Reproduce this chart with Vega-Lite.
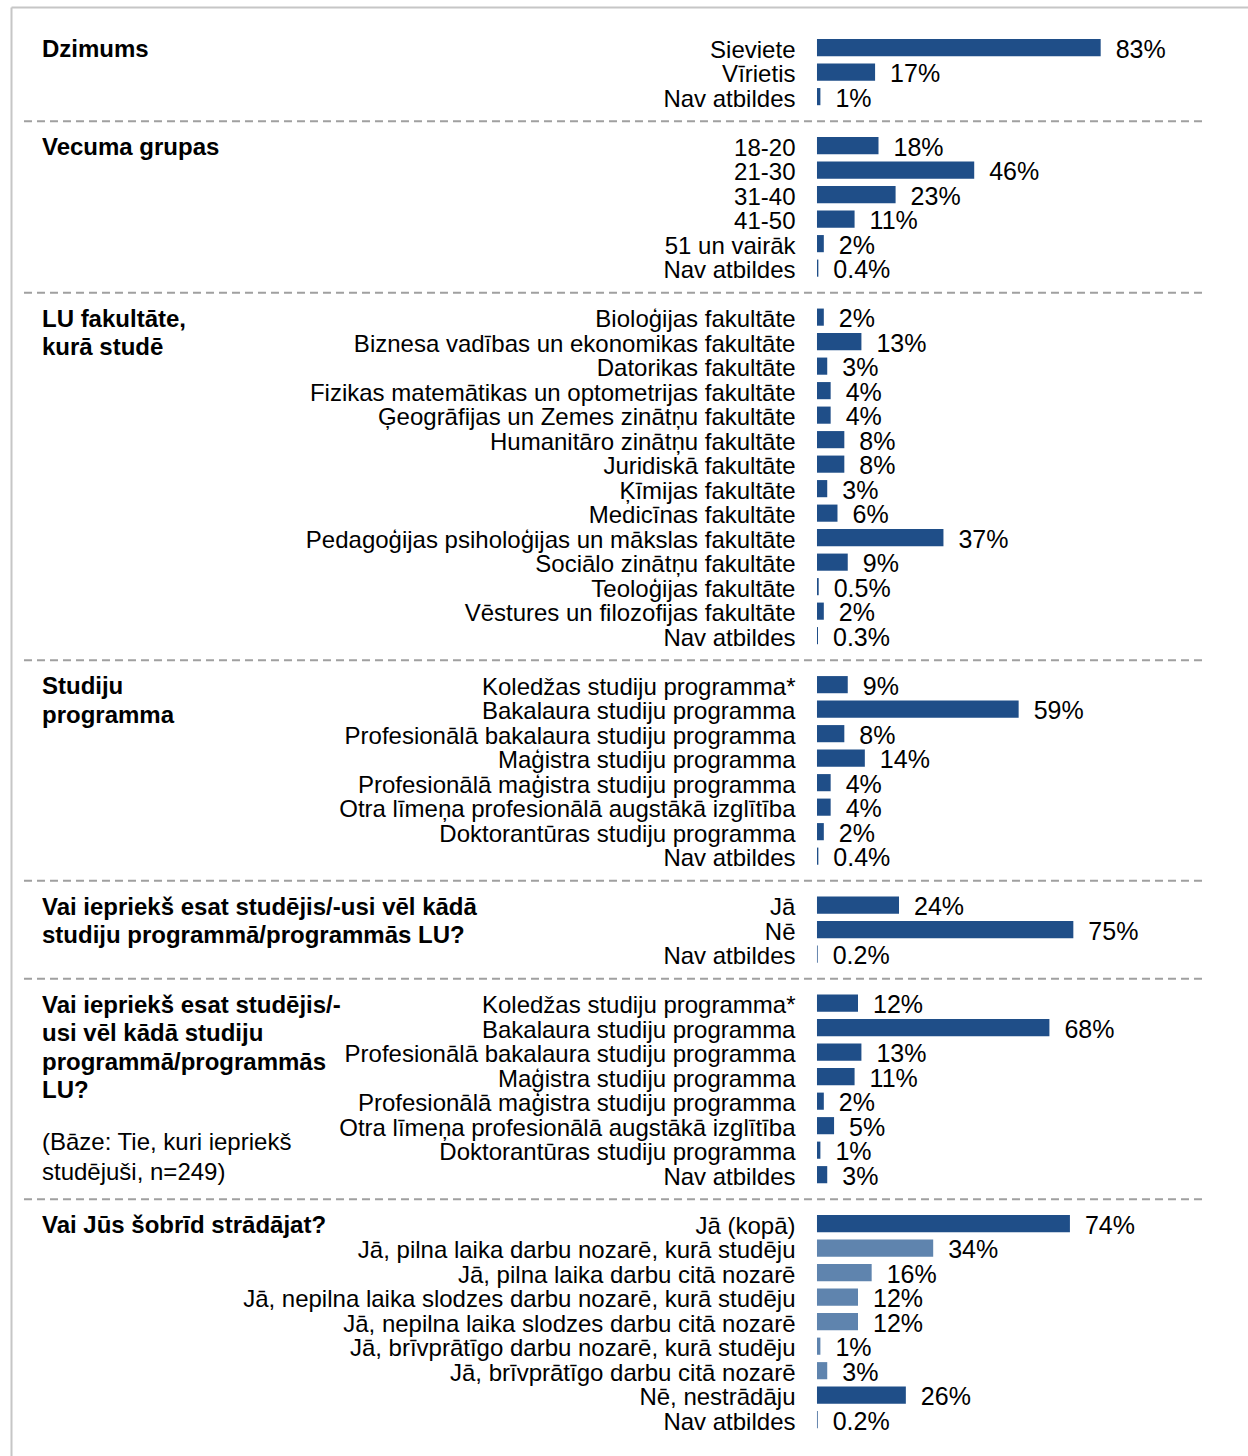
{
  "$schema": "https://vega.github.io/schema/vega-lite/v6.json",
  "width": 1237,
  "height": 1449,
  "autosize": {"type": "none"},
  "padding": {"left": 11, "top": 7, "right": 0, "bottom": 0},
  "background": "white",
  "config": {
    "view": {"stroke": null},
    "axis": {"domainColor": "#C6C6C6", "domainWidth": 2, "ticks": false, "labels": false, "grid": false},
    "text": {"font": "Liberation Sans", "color": "#000000"}
  },
  "datasets": {
    "bars": [
      {"id": "a1", "cat": "Sieviete", "v": 0.83, "t": "m"},
      {"id": "a2", "cat": "Vīrietis", "v": 0.17, "t": "m"},
      {"id": "a3", "cat": "Nav atbildes", "v": 0.01, "t": "m"},
      {"id": "b1", "cat": "18-20", "v": 0.18, "t": "m"},
      {"id": "b2", "cat": "21-30", "v": 0.46, "t": "m"},
      {"id": "b3", "cat": "31-40", "v": 0.23, "t": "m"},
      {"id": "b4", "cat": "41-50", "v": 0.11, "t": "m"},
      {"id": "b5", "cat": "51 un vairāk", "v": 0.02, "t": "m"},
      {"id": "b6", "cat": "Nav atbildes", "v": 0.004, "t": "m"},
      {"id": "c1", "cat": "Bioloģijas fakultāte", "v": 0.02, "t": "m"},
      {"id": "c2", "cat": "Biznesa vadības un ekonomikas fakultāte", "v": 0.13, "t": "m"},
      {"id": "c3", "cat": "Datorikas fakultāte", "v": 0.03, "t": "m"},
      {"id": "c4", "cat": "Fizikas matemātikas un optometrijas fakultāte", "v": 0.04, "t": "m"},
      {"id": "c5", "cat": "Ģeogrāfijas un Zemes zinātņu fakultāte", "v": 0.04, "t": "m"},
      {"id": "c6", "cat": "Humanitāro zinātņu fakultāte", "v": 0.08, "t": "m"},
      {"id": "c7", "cat": "Juridiskā fakultāte", "v": 0.08, "t": "m"},
      {"id": "c8", "cat": "Ķīmijas fakultāte", "v": 0.03, "t": "m"},
      {"id": "c9", "cat": "Medicīnas fakultāte", "v": 0.06, "t": "m"},
      {"id": "c10", "cat": "Pedagoģijas psiholoģijas un mākslas fakultāte", "v": 0.37, "t": "m"},
      {"id": "c11", "cat": "Sociālo zinātņu fakultāte", "v": 0.09, "t": "m"},
      {"id": "c12", "cat": "Teoloģijas fakultāte", "v": 0.005, "t": "m"},
      {"id": "c13", "cat": "Vēstures un filozofijas fakultāte", "v": 0.02, "t": "m"},
      {"id": "c14", "cat": "Nav atbildes", "v": 0.003, "t": "m"},
      {"id": "d1", "cat": "Koledžas studiju programma*", "v": 0.09, "t": "m"},
      {"id": "d2", "cat": "Bakalaura studiju programma", "v": 0.59, "t": "m"},
      {"id": "d3", "cat": "Profesionālā bakalaura studiju programma", "v": 0.08, "t": "m"},
      {"id": "d4", "cat": "Maģistra studiju programma", "v": 0.14, "t": "m"},
      {"id": "d5", "cat": "Profesionālā maģistra studiju programma", "v": 0.04, "t": "m"},
      {"id": "d6", "cat": "Otra līmeņa profesionālā augstākā izglītība", "v": 0.04, "t": "m"},
      {"id": "d7", "cat": "Doktorantūras studiju programma", "v": 0.02, "t": "m"},
      {"id": "d8", "cat": "Nav atbildes", "v": 0.004, "t": "m"},
      {"id": "e1", "cat": "Jā", "v": 0.24, "t": "m"},
      {"id": "e2", "cat": "Nē", "v": 0.75, "t": "m"},
      {"id": "e3", "cat": "Nav atbildes", "v": 0.002, "t": "m"},
      {"id": "f1", "cat": "Koledžas studiju programma*", "v": 0.12, "t": "m"},
      {"id": "f2", "cat": "Bakalaura studiju programma", "v": 0.68, "t": "m"},
      {"id": "f3", "cat": "Profesionālā bakalaura studiju programma", "v": 0.13, "t": "m"},
      {"id": "f4", "cat": "Maģistra studiju programma", "v": 0.11, "t": "m"},
      {"id": "f5", "cat": "Profesionālā maģistra studiju programma", "v": 0.02, "t": "m"},
      {"id": "f6", "cat": "Otra līmeņa profesionālā augstākā izglītība", "v": 0.05, "t": "m"},
      {"id": "f7", "cat": "Doktorantūras studiju programma", "v": 0.01, "t": "m"},
      {"id": "f8", "cat": "Nav atbildes", "v": 0.03, "t": "m"},
      {"id": "h1", "cat": "Jā (kopā)", "v": 0.74, "t": "m"},
      {"id": "h2", "cat": "Jā, pilna laika darbu nozarē, kurā studēju", "v": 0.34, "t": "s"},
      {"id": "h3", "cat": "Jā, pilna laika darbu citā nozarē", "v": 0.16, "t": "s"},
      {"id": "h4", "cat": "Jā, nepilna laika slodzes darbu nozarē, kurā studēju", "v": 0.12, "t": "s"},
      {"id": "h5", "cat": "Jā, nepilna laika slodzes darbu citā nozarē", "v": 0.12, "t": "s"},
      {"id": "h6", "cat": "Jā, brīvprātīgo darbu nozarē, kurā studēju", "v": 0.01, "t": "s"},
      {"id": "h7", "cat": "Jā, brīvprātīgo darbu citā nozarē", "v": 0.03, "t": "s"},
      {"id": "h8", "cat": "Nē, nestrādāju", "v": 0.26, "t": "m"},
      {"id": "h9", "cat": "Nav atbildes", "v": 0.002, "t": "m"}
    ],
    "gaps": [
      {"id": "g1"}, {"id": "g2"}, {"id": "g3"}, {"id": "g4"}, {"id": "g5"}, {"id": "g6"}
    ],
    "titles": [
      {"id": "a1", "text": "Dzimums"},
      {"id": "b1", "text": "Vecuma grupas"},
      {"id": "c1", "text": "LU fakultāte,\nkurā studē"},
      {"id": "d1", "text": "Studiju\nprogramma"},
      {"id": "e1", "text": "Vai iepriekš esat studējis/-usi vēl kādā\nstudiju programmā/programmās LU?"},
      {"id": "f1", "text": "Vai iepriekš esat studējis/-\nusi vēl kādā studiju\nprogrammā/programmās\nLU?"},
      {"id": "h1", "text": "Vai Jūs šobrīd strādājat?"}
    ],
    "notes": [
      {"id": "f7", "text": "(Bāze: Tie, kuri iepriekš\nstudējuši, n=249)"}
    ]
  },
  "encoding": {
    "y": {
      "field": "id",
      "type": "nominal",
      "scale": {
        "domain": ["pad0","a1","a2","a3","g1","b1","b2","b3","b4","b5","b6","g2","c1","c2","c3","c4","c5","c6","c7","c8","c9","c10","c11","c12","c13","c14","g3","d1","d2","d3","d4","d5","d6","d7","d8","g4","e1","e2","e3","g5","f1","f2","f3","f4","f5","f6","f7","f8","g6","h1","h2","h3","h4","h5","h6","h7","h8","h9","pad1"],
        "paddingInner": 0.3,
        "paddingOuter": 0.22,
        "align": 0.7
      },
      "axis": {"orient": "left", "title": null}
    }
  },
  "layer": [
    {
      "data": {"name": "gaps"},
      "mark": {"type": "rule", "strokeDash": [8, 5], "color": "#A0A0A0", "strokeWidth": 2},
      "encoding": {
        "x": {"datum": -2.32, "type": "quantitative", "axis": {"orient": "top", "title": null}},
        "x2": {"datum": 1.1264}
      }
    },
    {
      "data": {"name": "bars"},
      "mark": {"type": "bar"},
      "encoding": {
        "x": {"field": "v", "type": "quantitative", "scale": {"domain": [-2.358, 1.261], "nice": false, "zero": false}, "axis": {"orient": "top", "title": null}},
        "color": {"field": "t", "type": "nominal", "scale": {"domain": ["m", "s"], "range": ["#1F4E88", "#5F84AE"]}, "legend": null}
      }
    },
    {
      "data": {"name": "bars"},
      "mark": {"type": "text", "align": "left", "baseline": "alphabetic", "dx": 15, "dy": 10, "fontSize": 25},
      "encoding": {
        "x": {"field": "v", "type": "quantitative", "axis": {"orient": "top", "title": null}},
        "text": {"field": "v", "type": "quantitative", "format": ".1~%"}
      }
    },
    {
      "data": {"name": "bars"},
      "mark": {"type": "text", "align": "right", "baseline": "alphabetic", "dx": -21.5, "dy": 10, "fontSize": 24},
      "encoding": {
        "x": {"datum": 0, "type": "quantitative", "axis": {"orient": "top", "title": null}},
        "text": {"field": "cat", "type": "nominal"}
      }
    },
    {
      "data": {"name": "titles"},
      "mark": {"type": "text", "align": "left", "baseline": "alphabetic", "dy": 9.5, "fontSize": 24, "fontWeight": "bold", "lineBreak": "\n", "lineHeight": 28.5},
      "encoding": {
        "x": {"datum": -2.2674, "type": "quantitative", "axis": {"orient": "top", "title": null}},
        "text": {"field": "text", "type": "nominal"}
      }
    },
    {
      "data": {"name": "notes"},
      "mark": {"type": "text", "align": "left", "baseline": "alphabetic", "dy": 0, "fontSize": 24, "lineBreak": "\n", "lineHeight": 30},
      "encoding": {
        "x": {"datum": -2.2674, "type": "quantitative", "axis": {"orient": "top", "title": null}},
        "text": {"field": "text", "type": "nominal"}
      }
    }
  ]
}
